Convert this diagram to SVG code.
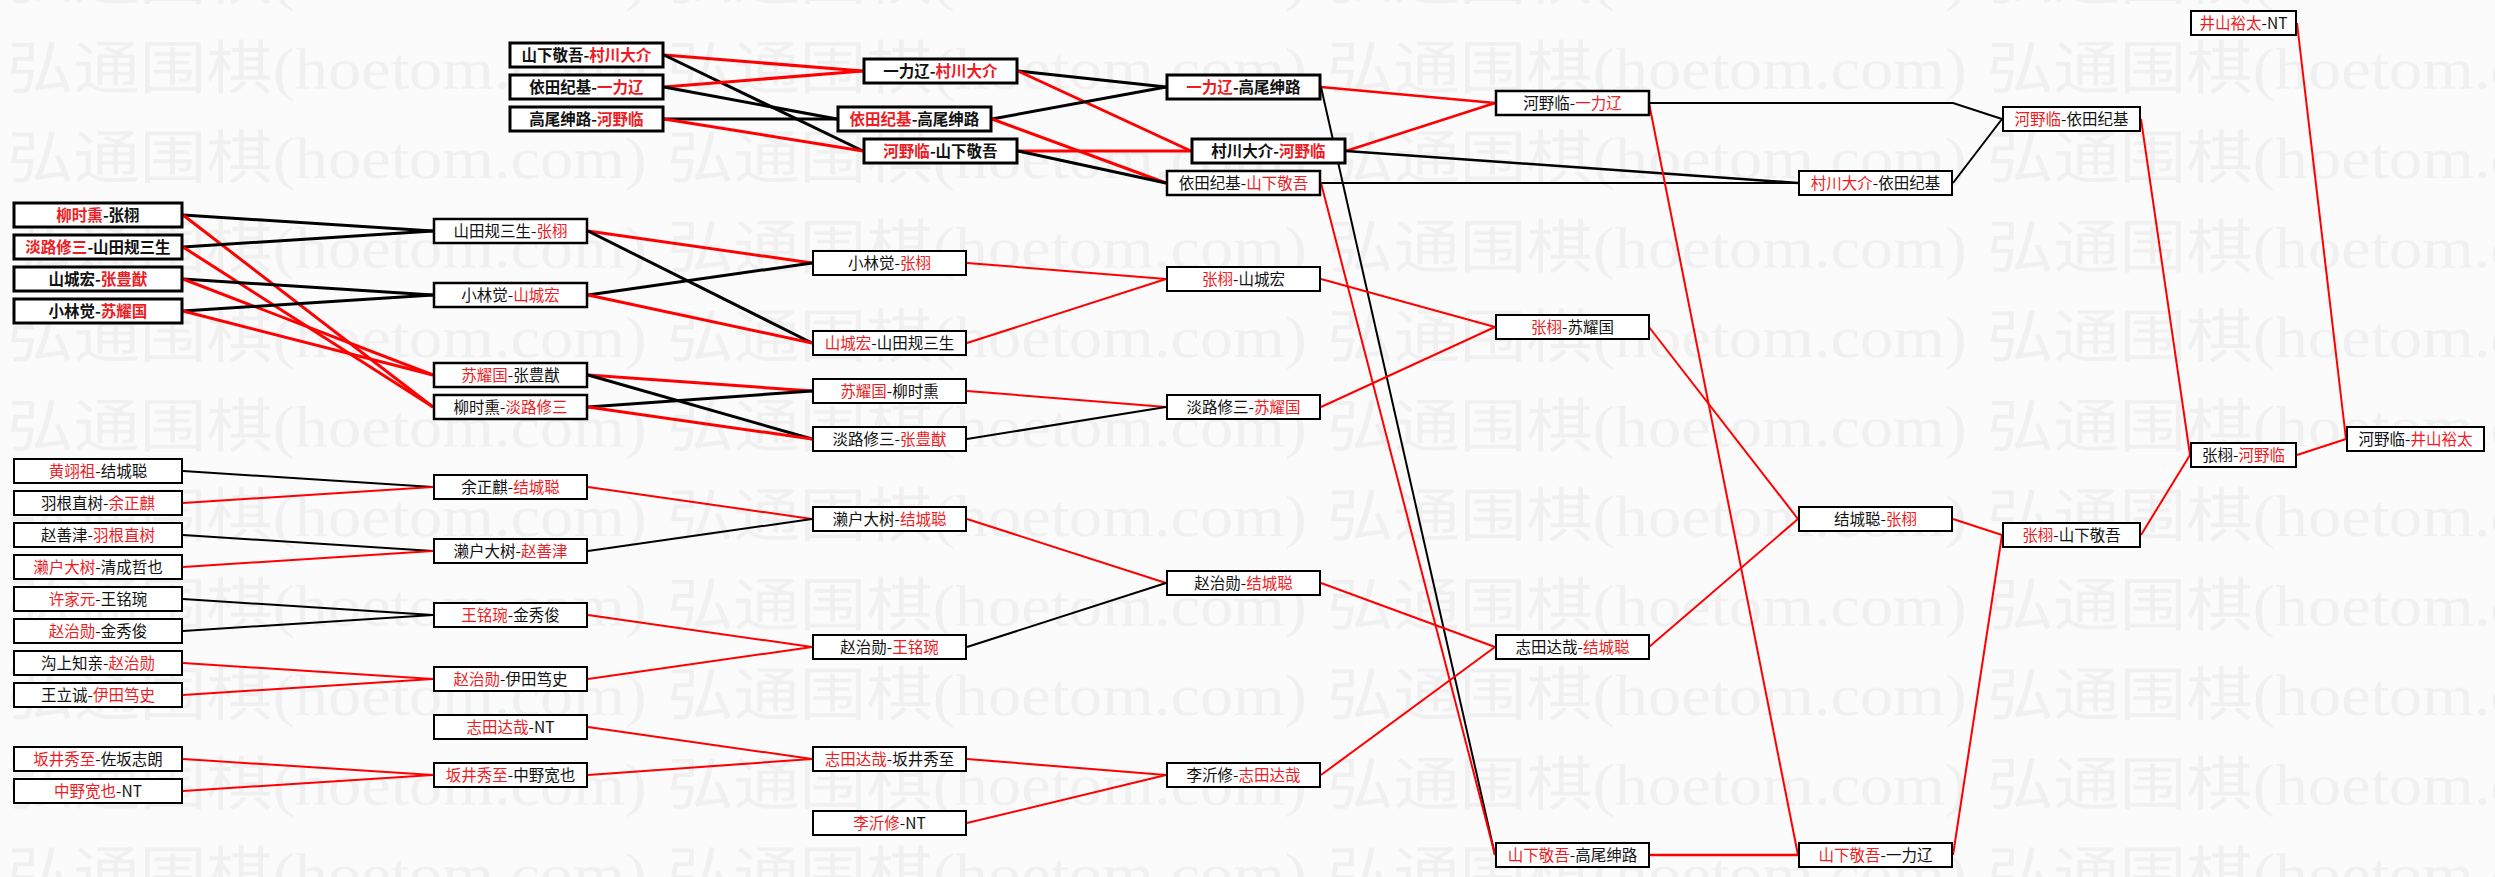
<svg xmlns="http://www.w3.org/2000/svg" width="2495" height="877" viewBox="0 0 2495 877">
<style>
.bx{fill:#fff;stroke:#000;stroke-width:2}
.bx.w{stroke-width:3}
.bx.m{stroke-width:2.5}
.t{font-family:"Noto Sans CJK SC","Noto Sans CJK JP",sans-serif;font-size:15.5px;text-anchor:middle;fill:#111}
.t.b{font-weight:bold}
.r{fill:#ee1c24}
.c{fill:none;stroke-width:2}
.c.w{stroke-width:3}
.c.m{stroke-width:2.5}
.k{stroke:#000}
.rd{stroke:#f00}
.wm{font-family:"Liberation Serif","Noto Sans CJK SC",serif;font-size:58px;fill:#f0f0f0}
</style>
<defs>
<pattern id="wmp" patternUnits="userSpaceOnUse" x="7" y="20" width="660" height="89.5">
<text class="wm" x="0" y="69" textLength="640" lengthAdjust="spacingAndGlyphs">弘通围棋(hoetom.com)</text>
</pattern>
</defs>
<rect width="2495" height="877" fill="#fbfbfb"/>
<rect id="watermark" width="2495" height="877" fill="url(#wmp)"/>

<g id="connectors">
<line class="c w rd" x1="664" y1="55" x2="863" y2="71"/>
<line class="c w k" x1="664" y1="55" x2="863" y2="151"/>
<line class="c w rd" x1="664" y1="87" x2="863" y2="71"/>
<line class="c w k" x1="664" y1="87" x2="837" y2="119"/>
<line class="c w k" x1="664" y1="119" x2="837" y2="119"/>
<line class="c w rd" x1="664" y1="119" x2="863" y2="151"/>
<line class="c w k" x1="1018" y1="71" x2="1166" y2="87"/>
<line class="c w rd" x1="1018" y1="71" x2="1191" y2="151"/>
<line class="c w k" x1="992" y1="119" x2="1166" y2="87"/>
<line class="c w rd" x1="992" y1="119" x2="1166" y2="183"/>
<line class="c w rd" x1="1018" y1="151" x2="1191" y2="151"/>
<line class="c w k" x1="1018" y1="151" x2="1166" y2="183"/>
<line class="c m rd" x1="1321" y1="87" x2="1495" y2="103"/>
<line class="c k" x1="1321" y1="87" x2="1495" y2="855"/>
<line class="c m rd" x1="1346" y1="151" x2="1495" y2="103"/>
<line class="c m k" x1="1346" y1="151" x2="1798" y2="183"/>
<line class="c k" x1="1321" y1="183" x2="1798" y2="183"/>
<line class="c rd" x1="1321" y1="183" x2="1495" y2="855"/>
<polyline class="c k" points="1649,103 1953,103 2002,119"/>
<line class="c rd" x1="1649" y1="103" x2="1798" y2="855"/>
<line class="c k" x1="1953" y1="183" x2="2002" y2="119"/>
<line class="c rd" x1="2141" y1="119" x2="2190" y2="455"/>
<line class="c rd" x1="2297" y1="23" x2="2346" y2="439"/>
<line class="c rd" x1="2297" y1="455" x2="2346" y2="439"/>
<line class="c rd" x1="2141" y1="535" x2="2190" y2="455"/>
<line class="c rd" x1="1953" y1="519" x2="2002" y2="535"/>
<line class="c rd" x1="1953" y1="855" x2="2002" y2="535"/>
<line class="c rd" x1="1649" y1="327" x2="1798" y2="519"/>
<line class="c rd" x1="1649" y1="647" x2="1798" y2="519"/>
<line class="c m rd" x1="1649" y1="855" x2="1798" y2="855"/>
<line class="c rd" x1="1321" y1="279" x2="1495" y2="327"/>
<line class="c rd" x1="1321" y1="407" x2="1495" y2="327"/>
<line class="c rd" x1="1321" y1="583" x2="1495" y2="647"/>
<line class="c rd" x1="1321" y1="775" x2="1495" y2="647"/>
<line class="c rd" x1="967" y1="263" x2="1166" y2="279"/>
<line class="c rd" x1="967" y1="343" x2="1166" y2="279"/>
<line class="c rd" x1="967" y1="391" x2="1166" y2="407"/>
<line class="c k" x1="967" y1="439" x2="1166" y2="407"/>
<line class="c rd" x1="967" y1="519" x2="1166" y2="583"/>
<line class="c k" x1="967" y1="647" x2="1166" y2="583"/>
<line class="c rd" x1="967" y1="759" x2="1166" y2="775"/>
<line class="c rd" x1="967" y1="823" x2="1166" y2="775"/>
<line class="c w rd" x1="588" y1="231" x2="812" y2="263"/>
<line class="c w k" x1="588" y1="231" x2="812" y2="343"/>
<line class="c w k" x1="588" y1="295" x2="812" y2="263"/>
<line class="c w rd" x1="588" y1="295" x2="812" y2="343"/>
<line class="c w rd" x1="588" y1="375" x2="812" y2="391"/>
<line class="c w k" x1="588" y1="375" x2="812" y2="439"/>
<line class="c w k" x1="588" y1="407" x2="812" y2="391"/>
<line class="c w rd" x1="588" y1="407" x2="812" y2="439"/>
<line class="c rd" x1="588" y1="487" x2="812" y2="519"/>
<line class="c k" x1="588" y1="551" x2="812" y2="519"/>
<line class="c rd" x1="588" y1="615" x2="812" y2="647"/>
<line class="c rd" x1="588" y1="679" x2="812" y2="647"/>
<line class="c rd" x1="588" y1="727" x2="812" y2="759"/>
<line class="c rd" x1="588" y1="775" x2="812" y2="759"/>
<line class="c w k" x1="183" y1="215" x2="433" y2="231"/>
<line class="c w rd" x1="183" y1="215" x2="433" y2="407"/>
<line class="c w k" x1="183" y1="247" x2="433" y2="231"/>
<line class="c w rd" x1="183" y1="247" x2="433" y2="407"/>
<line class="c w k" x1="183" y1="279" x2="433" y2="295"/>
<line class="c w rd" x1="183" y1="279" x2="433" y2="375"/>
<line class="c w k" x1="183" y1="311" x2="433" y2="295"/>
<line class="c w rd" x1="183" y1="311" x2="433" y2="375"/>
<line class="c k" x1="183" y1="471" x2="433" y2="487"/>
<line class="c rd" x1="183" y1="503" x2="433" y2="487"/>
<line class="c k" x1="183" y1="535" x2="433" y2="551"/>
<line class="c rd" x1="183" y1="567" x2="433" y2="551"/>
<line class="c k" x1="183" y1="599" x2="433" y2="615"/>
<line class="c k" x1="183" y1="631" x2="433" y2="615"/>
<line class="c rd" x1="183" y1="663" x2="433" y2="679"/>
<line class="c rd" x1="183" y1="695" x2="433" y2="679"/>
<line class="c rd" x1="183" y1="759" x2="433" y2="775"/>
<line class="c rd" x1="183" y1="791" x2="433" y2="775"/>
</g>

<!-- Top group round 1 -->
<g id="t1-1"><rect class="bx w" x="510" y="43" width="153" height="24"/><text class="t b" x="586.5" y="60.5">山下敬吾-<tspan class="r">村川大介</tspan></text></g>
<g id="t1-2"><rect class="bx w" x="510" y="75" width="153" height="24"/><text class="t b" x="586.5" y="92.5">依田纪基-<tspan class="r">一力辽</tspan></text></g>
<g id="t1-3"><rect class="bx w" x="510" y="107" width="153" height="24"/><text class="t b" x="586.5" y="124.5">高尾绅路-<tspan class="r">河野临</tspan></text></g>

<!-- Left column -->
<g id="l1"><rect class="bx w" x="14" y="203" width="168" height="24"/><text class="t b" x="98" y="220.5"><tspan class="r">柳时熏</tspan>-张栩</text></g>
<g id="l2"><rect class="bx w" x="14" y="235" width="168" height="24"/><text class="t b" x="98" y="252.5"><tspan class="r">淡路修三</tspan>-山田规三生</text></g>
<g id="l3"><rect class="bx w" x="14" y="267" width="168" height="24"/><text class="t b" x="98" y="284.5">山城宏-<tspan class="r">张豊猷</tspan></text></g>
<g id="l4"><rect class="bx w" x="14" y="299" width="168" height="24"/><text class="t b" x="98" y="316.5">小林觉-<tspan class="r">苏耀国</tspan></text></g>
<g id="l5"><rect class="bx" x="14" y="459" width="168" height="24"/><text class="t" x="98" y="476.5"><tspan class="r">黄翊祖</tspan>-结城聪</text></g>
<g id="l6"><rect class="bx" x="14" y="491" width="168" height="24"/><text class="t" x="98" y="508.5">羽根直树-<tspan class="r">余正麒</tspan></text></g>
<g id="l7"><rect class="bx" x="14" y="523" width="168" height="24"/><text class="t" x="98" y="540.5">赵善津-<tspan class="r">羽根直树</tspan></text></g>
<g id="l8"><rect class="bx" x="14" y="555" width="168" height="24"/><text class="t" x="98" y="572.5"><tspan class="r">濑户大树</tspan>-清成哲也</text></g>
<g id="l9"><rect class="bx" x="14" y="587" width="168" height="24"/><text class="t" x="98" y="604.5"><tspan class="r">许家元</tspan>-王铭琬</text></g>
<g id="l10"><rect class="bx" x="14" y="619" width="168" height="24"/><text class="t" x="98" y="636.5"><tspan class="r">赵治勋</tspan>-金秀俊</text></g>
<g id="l11"><rect class="bx" x="14" y="651" width="168" height="24"/><text class="t" x="98" y="668.5">沟上知亲-<tspan class="r">赵治勋</tspan></text></g>
<g id="l12"><rect class="bx" x="14" y="683" width="168" height="24"/><text class="t" x="98" y="700.5">王立诚-<tspan class="r">伊田笃史</tspan></text></g>
<g id="l13"><rect class="bx" x="14" y="747" width="168" height="24"/><text class="t" x="98" y="764.5"><tspan class="r">坂井秀至</tspan>-佐坂志朗</text></g>
<g id="l14"><rect class="bx" x="14" y="779" width="168" height="24"/><text class="t" x="98" y="796.5"><tspan class="r">中野宽也</tspan>-NT</text></g>

<!-- Column 2 -->
<g id="c2-1"><rect class="bx m" x="434" y="219" width="153" height="24"/><text class="t" x="510.5" y="236.5">山田规三生-<tspan class="r">张栩</tspan></text></g>
<g id="c2-2"><rect class="bx m" x="434" y="283" width="153" height="24"/><text class="t" x="510.5" y="300.5">小林觉-<tspan class="r">山城宏</tspan></text></g>
<g id="c2-3"><rect class="bx m" x="434" y="363" width="153" height="24"/><text class="t" x="510.5" y="380.5"><tspan class="r">苏耀国</tspan>-张豊猷</text></g>
<g id="c2-4"><rect class="bx m" x="434" y="395" width="153" height="24"/><text class="t" x="510.5" y="412.5">柳时熏-<tspan class="r">淡路修三</tspan></text></g>
<g id="c2-5"><rect class="bx" x="434" y="475" width="153" height="24"/><text class="t" x="510.5" y="492.5">余正麒-<tspan class="r">结城聪</tspan></text></g>
<g id="c2-6"><rect class="bx" x="434" y="539" width="153" height="24"/><text class="t" x="510.5" y="556.5">濑户大树-<tspan class="r">赵善津</tspan></text></g>
<g id="c2-7"><rect class="bx" x="434" y="603" width="153" height="24"/><text class="t" x="510.5" y="620.5"><tspan class="r">王铭琬</tspan>-金秀俊</text></g>
<g id="c2-8"><rect class="bx" x="434" y="667" width="153" height="24"/><text class="t" x="510.5" y="684.5"><tspan class="r">赵治勋</tspan>-伊田笃史</text></g>
<g id="c2-9"><rect class="bx" x="434" y="715" width="153" height="24"/><text class="t" x="510.5" y="732.5"><tspan class="r">志田达哉</tspan>-NT</text></g>
<g id="c2-10"><rect class="bx" x="434" y="763" width="153" height="24"/><text class="t" x="510.5" y="780.5"><tspan class="r">坂井秀至</tspan>-中野宽也</text></g>

<!-- Top group round 2 -->
<g id="t2-1"><rect class="bx w" x="864" y="59" width="153" height="24"/><text class="t b" x="940.5" y="76.5">一力辽-<tspan class="r">村川大介</tspan></text></g>
<g id="t2-2"><rect class="bx w" x="838" y="107" width="153" height="24"/><text class="t b" x="914.5" y="124.5"><tspan class="r">依田纪基</tspan>-高尾绅路</text></g>
<g id="t2-3"><rect class="bx w" x="864" y="139" width="153" height="24"/><text class="t b" x="940.5" y="156.5"><tspan class="r">河野临</tspan>-山下敬吾</text></g>

<!-- Column 3 -->
<g id="c3-1"><rect class="bx" x="813" y="251" width="153" height="24"/><text class="t" x="889.5" y="268.5">小林觉-<tspan class="r">张栩</tspan></text></g>
<g id="c3-2"><rect class="bx" x="813" y="331" width="153" height="24"/><text class="t" x="889.5" y="348.5"><tspan class="r">山城宏</tspan>-山田规三生</text></g>
<g id="c3-3"><rect class="bx" x="813" y="379" width="153" height="24"/><text class="t" x="889.5" y="396.5"><tspan class="r">苏耀国</tspan>-柳时熏</text></g>
<g id="c3-4"><rect class="bx" x="813" y="427" width="153" height="24"/><text class="t" x="889.5" y="444.5">淡路修三-<tspan class="r">张豊猷</tspan></text></g>
<g id="c3-5"><rect class="bx" x="813" y="507" width="153" height="24"/><text class="t" x="889.5" y="524.5">濑户大树-<tspan class="r">结城聪</tspan></text></g>
<g id="c3-6"><rect class="bx" x="813" y="635" width="153" height="24"/><text class="t" x="889.5" y="652.5">赵治勋-<tspan class="r">王铭琬</tspan></text></g>
<g id="c3-7"><rect class="bx" x="813" y="747" width="153" height="24"/><text class="t" x="889.5" y="764.5"><tspan class="r">志田达哉</tspan>-坂井秀至</text></g>
<g id="c3-8"><rect class="bx" x="813" y="811" width="153" height="24"/><text class="t" x="889.5" y="828.5"><tspan class="r">李沂修</tspan>-NT</text></g>

<!-- Column 4 -->
<g id="c4-1"><rect class="bx w" x="1167" y="75" width="153" height="24"/><text class="t b" x="1243.5" y="92.5"><tspan class="r">一力辽</tspan>-高尾绅路</text></g>
<g id="c4-2"><rect class="bx w" x="1192" y="139" width="153" height="24"/><text class="t b" x="1268.5" y="156.5">村川大介-<tspan class="r">河野临</tspan></text></g>
<g id="c4-3"><rect class="bx m" x="1167" y="171" width="153" height="24"/><text class="t" x="1243.5" y="188.5">依田纪基-<tspan class="r">山下敬吾</tspan></text></g>
<g id="c4-4"><rect class="bx" x="1167" y="267" width="153" height="24"/><text class="t" x="1243.5" y="284.5"><tspan class="r">张栩</tspan>-山城宏</text></g>
<g id="c4-5"><rect class="bx" x="1167" y="395" width="153" height="24"/><text class="t" x="1243.5" y="412.5">淡路修三-<tspan class="r">苏耀国</tspan></text></g>
<g id="c4-6"><rect class="bx" x="1167" y="571" width="153" height="24"/><text class="t" x="1243.5" y="588.5">赵治勋-<tspan class="r">结城聪</tspan></text></g>
<g id="c4-7"><rect class="bx" x="1167" y="763" width="153" height="24"/><text class="t" x="1243.5" y="780.5">李沂修-<tspan class="r">志田达哉</tspan></text></g>

<!-- Column 5 -->
<g id="c5-1"><rect class="bx m" x="1496" y="91" width="153" height="24"/><text class="t" x="1572.5" y="108.5">河野临-<tspan class="r">一力辽</tspan></text></g>
<g id="c5-2"><rect class="bx" x="1496" y="315" width="153" height="24"/><text class="t" x="1572.5" y="332.5"><tspan class="r">张栩</tspan>-苏耀国</text></g>
<g id="c5-3"><rect class="bx" x="1496" y="635" width="153" height="24"/><text class="t" x="1572.5" y="652.5">志田达哉-<tspan class="r">结城聪</tspan></text></g>
<g id="c5-4"><rect class="bx" x="1496" y="843" width="153" height="24"/><text class="t" x="1572.5" y="860.5"><tspan class="r">山下敬吾</tspan>-高尾绅路</text></g>

<!-- Column 6 -->
<g id="c6-1"><rect class="bx" x="1799" y="171" width="153" height="24"/><text class="t" x="1875.5" y="188.5"><tspan class="r">村川大介</tspan>-依田纪基</text></g>
<g id="c6-2"><rect class="bx" x="1799" y="507" width="153" height="24"/><text class="t" x="1875.5" y="524.5">结城聪-<tspan class="r">张栩</tspan></text></g>
<g id="c6-3"><rect class="bx" x="1799" y="843" width="153" height="24"/><text class="t" x="1875.5" y="860.5"><tspan class="r">山下敬吾</tspan>-一力辽</text></g>

<!-- Column 7 -->
<g id="c7-1"><rect class="bx" x="2003" y="107" width="137" height="24"/><text class="t" x="2071.5" y="124.5"><tspan class="r">河野临</tspan>-依田纪基</text></g>
<g id="c7-2"><rect class="bx" x="2003" y="523" width="137" height="24"/><text class="t" x="2071.5" y="540.5"><tspan class="r">张栩</tspan>-山下敬吾</text></g>

<!-- Column 8 -->
<g id="c8-1"><rect class="bx" x="2191" y="11" width="105" height="24"/><text class="t" x="2243.5" y="28.5"><tspan class="r">井山裕太</tspan>-NT</text></g>
<g id="c8-2"><rect class="bx" x="2191" y="443" width="105" height="24"/><text class="t" x="2243.5" y="460.5">张栩-<tspan class="r">河野临</tspan></text></g>

<!-- Final -->
<g id="c9-1"><rect class="bx" x="2347" y="427" width="137" height="24"/><text class="t" x="2415.5" y="444.5">河野临-<tspan class="r">井山裕太</tspan></text></g>
</svg>
